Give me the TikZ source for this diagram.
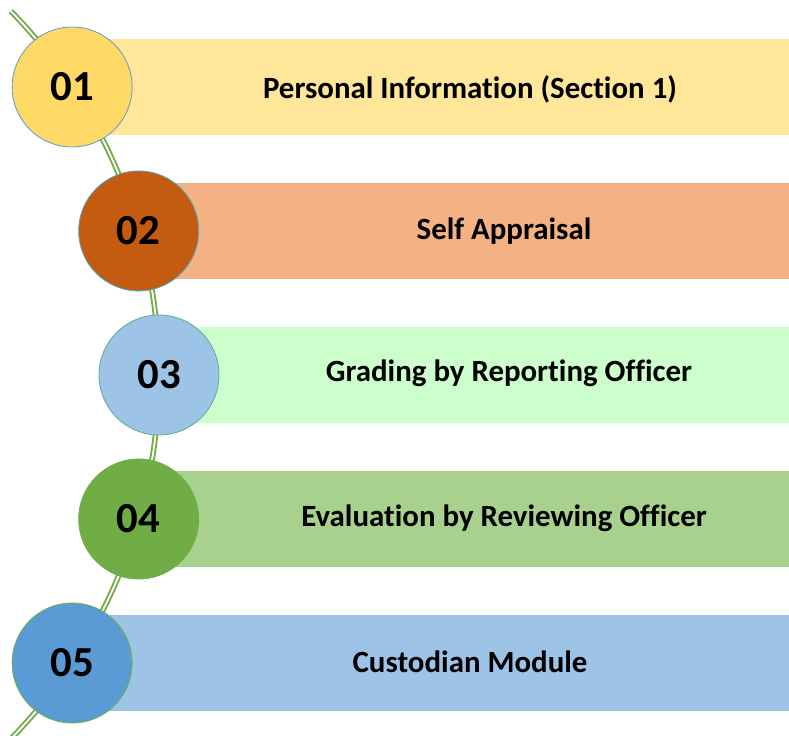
\documentclass[tikz,border=0pt]{standalone}
\usepackage{fontspec}
\setmainfont{Carlito}[Ligatures=CommonOff]
\definecolor{lgreen}{HTML}{70AD47}
\definecolor{cyel}{HTML}{FFD966}
\definecolor{byel}{HTML}{FFE699}
\definecolor{corg}{HTML}{C55A11}
\definecolor{borg}{HTML}{F4B183}
\definecolor{cblu}{HTML}{9DC3E6}
\definecolor{bmnt}{HTML}{CCFFCC}
\definecolor{cgrn}{HTML}{70AD47}
\definecolor{bgrn}{HTML}{A9D18E}
\definecolor{cdbl}{HTML}{5B9BD5}
\definecolor{bblu}{HTML}{9DC3E6}
\definecolor{ctea}{HTML}{4BACC6}
\begin{document}
\begin{tikzpicture}[x=1bp,y=1bp,
	num/.style={circle,minimum size=120bp,inner sep=0pt,line width=0.8bp,
		font=\fontsize{43}{43}\selectfont\bfseries},
	lbl/.style={font=\fontsize{31}{31}\selectfont\bfseries},
	wire/.style={draw=lgreen,double=white,line width=1.9bp,double distance=1.8bp}]
		\useasboundingbox (0,0) rectangle (789,736);
		\clip (0,0) rectangle (789,736);
		% centre of the big arc
		\coordinate (ctr) at (-362,361);
		\coordinate (c1) at ([shift={(33.56:521)}]ctr);
		\coordinate (c2) at ([shift={(16.05:521)}]ctr);
		\coordinate (c3) at ([shift={(0:521)}]ctr);
		\coordinate (c4) at ([shift={(-16.05:521)}]ctr);
		\coordinate (c5) at ([shift={(-33.56:521)}]ctr);
		\draw[wire] (ctr) ++(44.3:521) arc[start angle=44.3,end angle=-47,radius=521];
		% bars
		\fill[byel] (c1) ++(0,-48) rectangle ++(800,96);
		\fill[borg] (c2) ++(0,-48) rectangle ++(800,96);
		\fill[bmnt] (c3) ++(0,-48) rectangle ++(800,96);
		\fill[bgrn] (c4) ++(0,-48) rectangle ++(800,96);
		\fill[bblu] (c5) ++(0,-48) rectangle ++(800,96);
		% circles
		\node[num,fill=cyel,draw=cdbl] (n1) at (c1) {01};
		\node[num,fill=corg,draw=ctea] (n2) at (c2) {02};
		\node[num,fill=cblu,draw=ctea!60!lgreen] (n3) at (c3) {03};
		\node[num,fill=cgrn,draw=lgreen] (n4) at (c4) {04};
		\node[num,fill=cdbl,draw=lgreen] (n5) at (c5) {05};
		% labels
		\node[lbl] (t1) at (470,647) {Personal Information (Section 1)};
		\node[lbl] (t2) at (504,505) {Self Appraisal};
		\node[lbl] (t3) at (509,363) {Grading by Reporting Officer};
		\node[lbl] (t4) at (504,218) {Evaluation by Reviewing Officer};
		\node[lbl] (t5) at (470,74) {Custodian Module};
\end{tikzpicture}
\end{document}
